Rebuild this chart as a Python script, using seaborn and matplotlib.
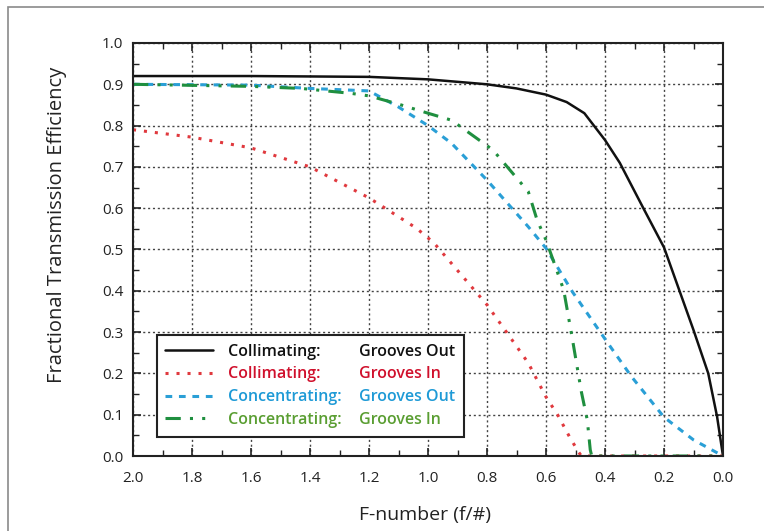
import numpy as np
import pandas as pd
import matplotlib.pyplot as plt
import seaborn as sns
from matplotlib.lines import Line2D
from matplotlib.patches import Rectangle
from matplotlib.ticker import MultipleLocator


# Data (F-number, efficiency)
#
coll_out_f = [2.0, 1.6, 1.2, 1.0, 0.8, 0.7, 0.6, 0.53, 0.47, 0.4, 0.35, 0.27, 0.2, 0.1, 0.05, 0.02, 0.0]
coll_out_v = [0.92, 0.92, 0.918, 0.912, 0.90, 0.89, 0.875, 0.857, 0.83, 0.765, 0.71, 0.60, 0.505, 0.305, 0.20, 0.095, 0.0]

coll_in_f = [2.0, 1.8, 1.6, 1.4, 1.2, 1.04, 0.98, 0.8, 0.72, 0.66, 0.6, 0.56, 0.52, 0.49, 0.48, 0.0]
coll_in_v = [0.79, 0.772, 0.746, 0.70, 0.625, 0.552, 0.516, 0.366, 0.286, 0.225, 0.143, 0.099, 0.046, 0.01, 0.0, 0.0]

conc_out_f = [2.0, 1.6, 1.4, 1.2, 1.1, 1.0, 0.92, 0.8, 0.66, 0.6, 0.51, 0.39, 0.31, 0.2, 0.1, 0.0]
conc_out_v = [0.90, 0.898, 0.89, 0.884, 0.845, 0.80, 0.757, 0.668, 0.555, 0.503, 0.397, 0.273, 0.192, 0.094, 0.039, 0.0]

conc_in_f = [2.0, 1.6, 1.43, 1.26, 1.2, 1.1, 1.0, 0.92, 0.78, 0.66, 0.63, 0.6, 0.54, 0.51, 0.48, 0.46, 0.45, 0.445, 0.0]
conc_in_v = [0.90, 0.895, 0.89, 0.878, 0.872, 0.852, 0.83, 0.813, 0.741, 0.64, 0.571, 0.523, 0.402, 0.281, 0.155, 0.087, 0.015, 0.0, 0.0]

configs  = ['Collimating:', 'Collimating:', 'Concentrating:', 'Concentrating:']
grooves  = ['Grooves Out', 'Grooves In', 'Grooves Out', 'Grooves In']

line_colors = ['#111111', '#e0393e', '#2a9fd6', '#1f8f3f']
text_colors = ['#111111', '#d0102c', '#1e9ad6', '#5a9e32']


sns.set_style('ticks')
plt.rcParams['font.family'] = ['Open Sans', 'DejaVu Sans']

fig = plt.figure(figsize = (7.64, 5.31), dpi = 100)
ax  = fig.add_axes([133/764, 1 - 456/531, 590/764, 413/531])

# outer frame (only top/left edges visible in the reference)
fig.patches.append(Rectangle((8/764, -0.2), 1.2, 1.2 - 7/531, transform = fig.transFigure,
                             fill = False, edgecolor = '#8a8a8a', lw = 1.2))

series = [(coll_out_f, coll_out_v, None),
          (coll_in_f,  coll_in_v,  (1, 2.6)),
          (conc_out_f, conc_out_v, (2.2, 2.2)),
          (conc_in_f,  conc_in_v,  (5, 3, 1, 3, 1, 3))]

for (f, v, dash), col in zip(series, line_colors):
    df = pd.DataFrame({'F': f, 'Eff': v})
    lw = 1.8 if dash is None else 2.2
    sns.lineplot(data = df, x = 'F', y = 'Eff', ax = ax, color = col,
                 lw = lw, sort = False, estimator = None)
    if dash is not None:
        ax.lines[-1].set_dashes(dash)

ax.set_xlim(2.0, 0.0)
ax.set_ylim(0.0, 1.0)
ax.xaxis.set_major_locator(MultipleLocator(0.2))
ax.xaxis.set_minor_locator(MultipleLocator(0.1))
ax.yaxis.set_major_locator(MultipleLocator(0.1))
ax.yaxis.set_minor_locator(MultipleLocator(0.05))
ax.set_xticklabels([f'{t:.1f}' for t in ax.get_xticks()])
ax.set_yticklabels([f'{t:.1f}' for t in ax.get_yticks()])

ax.tick_params(which = 'both', direction = 'in', top = True, right = True,
               color = '#222222', labelsize = 11, labelcolor = '#222222')
ax.tick_params(which = 'major', length = 6, width = 1.2)
ax.tick_params(which = 'minor', length = 4, width = 1.0)
ax.tick_params(axis = 'x', which = 'major', pad = 11)
ax.tick_params(axis = 'y', which = 'major', pad = 7)

ax.grid(True, which = 'major', linestyle = (0, (1.5, 2)), color = '#444444', lw = 1.0)
for s in ax.spines.values():
    s.set_linewidth(1.5)
    s.set_color('#222222')

ax.set_xlabel('F-number (f/#)', fontsize = 14, color = '#222222')
ax.set_ylabel('Fractional Transmission Efficiency', fontsize = 14.5, color = '#222222')
ax.xaxis.set_label_coords(0.495, -0.122)
ax.yaxis.set_label_coords(-0.112, 0.56)

# legend: handles + config label in column 1, groove label in column 2
handles = [ax.lines[i] for i in range(4)]
blank   = [Line2D([], [], color = 'none') for _ in range(4)]
leg = ax.legend(handles + blank, configs + grooves, ncol = 2, loc = 'lower left',
                bbox_to_anchor = (0.04, 0.047), fancybox = False, framealpha = 1,
                edgecolor = '#222222', handlelength = 3.0, handletextpad = 0.95,
                columnspacing = -2.9, labelspacing = 0.42, borderpad = 0.55,
                borderaxespad = 0.0, prop = dict(size = 11.5, weight = 'semibold'))
leg.get_frame().set_linewidth(1.5)
for i, t in enumerate(leg.get_texts()):
    t.set_color(text_colors[i % 4])

fig.savefig('out.png', dpi = 100)
